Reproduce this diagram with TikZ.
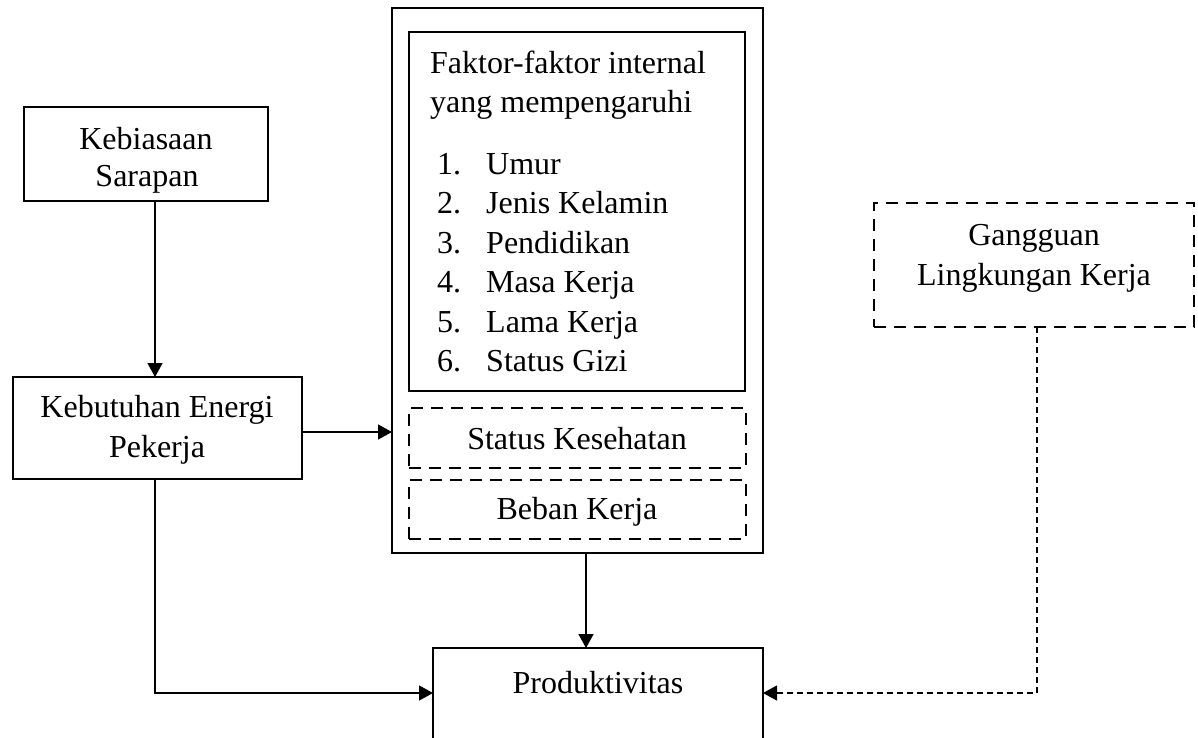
\documentclass[tikz,border=0pt]{standalone}
\usepackage{fontspec}
\setmainfont{Liberation Serif}
\usetikzlibrary{arrows.meta}
\begin{document}
\begin{tikzpicture}[x=1pt,y=-1pt,
  box/.style={draw, line width=2.4pt, rectangle, inner sep=0pt, outer sep=0pt},
  dbox/.style={box, dash pattern=on 12pt off 8pt},
  txt/.style={font=\fontsize{32}{39}\selectfont, inner sep=0pt, anchor=base},
  ltxt/.style={txt, anchor=base west},
  conn/.style={line width=1.5pt, -{Triangle[length=14pt,width=15pt]}},
  dconn/.style={line width=1.2pt, dash pattern=on 6pt off 4pt, -{Triangle[length=14pt,width=15pt]}}
]
\useasboundingbox (0,0) rectangle (1198,737);
\clip (0,0) rectangle (1198,737);

% boxes
\node[box, minimum width=244pt, minimum height=94pt] (sarapan) at (146,154) {};
\node[box, minimum width=289pt, minimum height=102pt] (kebutuhan) at (157.5,428) {};
\node[box, minimum width=371pt, minimum height=545pt] (outer) at (577.5,280.5) {};
\node[box, minimum width=336pt, minimum height=359pt] (inner) at (577,211.5) {};
\node[dbox, minimum width=337pt, minimum height=60pt] (status) at (577.5,438) {};
\node[dbox, minimum width=337pt, minimum height=59pt] (beban) at (577.5,509.5) {};
\node[dbox, minimum width=320pt, minimum height=124pt] (gangguan) at (1034,265) {};
\node[box, minimum width=330pt, minimum height=142pt] (produk) at (598,719) {};

% texts
\node[txt] (t1) at (146,149) {Kebiasaan};
\node[txt] (t2) at (147,186) {Sarapan};
\node[txt] (t3) at (157,417) {Kebutuhan Energi};
\node[txt] (t4) at (157,457) {Pekerja};
\node[ltxt] (h1) at (430,73) {Faktor-faktor internal};
\node[ltxt] (h2) at (430,112) {yang mempengaruhi};
\node[ltxt] (n1) at (437,174) {1.};
\node[ltxt] (n2) at (437,213.5) {2.};
\node[ltxt] (n3) at (437,253) {3.};
\node[ltxt] (n4) at (437,292.5) {4.};
\node[ltxt] (n5) at (437,332) {5.};
\node[ltxt] (n6) at (437,371.5) {6.};
\node[ltxt] (i1) at (486,174) {Umur};
\node[ltxt] (i2) at (486,213.5) {Jenis Kelamin};
\node[ltxt] (i3) at (486,253) {Pendidikan};
\node[ltxt] (i4) at (486,292.5) {Masa Kerja};
\node[ltxt] (i5) at (486,332) {Lama Kerja};
\node[ltxt] (i6) at (486,371.5) {Status Gizi};
\node[txt] (t5) at (577,449) {Status Kesehatan};
\node[txt] (t6) at (577,519) {Beban Kerja};
\node[txt] (t7) at (1034,245) {Gangguan};
\node[txt] (t8) at (1034,285) {Lingkungan Kerja};
\node[txt] (t9) at (598,693) {Produktivitas};

% helper coordinates
\coordinate (cx1) at (155,0);
\coordinate (cy1) at (0,432);
\coordinate (cx2) at (586,0);
\coordinate (cy2) at (0,693);
\coordinate (cx3) at (1037,0);

% connectors
\draw[conn] (sarapan.south -| cx1) -- (kebutuhan.north -| cx1);
\draw[conn] (kebutuhan.east |- cy1) -- (outer.west |- cy1);
\draw[conn] (outer.south -| cx2) -- (produk.north -| cx2);
\draw[conn] (kebutuhan.south -| cx1) |- (produk.west |- cy2);
\draw[dconn] (gangguan.south -| cx3) |- (produk.east |- cy2);
\end{tikzpicture}
\end{document}
